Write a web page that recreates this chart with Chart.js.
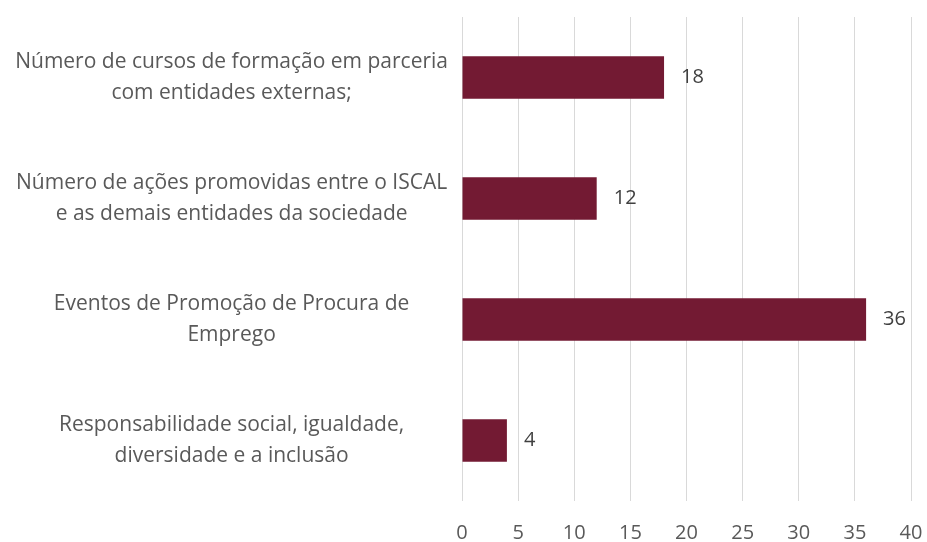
<!DOCTYPE html>
<html>
<head>
<meta charset="utf-8">
<script src="https://cdn.jsdelivr.net/npm/chart.js@4.4.0/dist/chart.umd.min.js"></script>
<style>
  html, body { margin: 0; padding: 0; background: #ffffff; }
  #wrap { width: 927px; height: 542px; }
</style>
</head>
<body>
<div id="wrap"><canvas id="chart" width="927" height="542"></canvas></div>
<script>
const categories = [
  ['Número de cursos de formação em parceria', 'com entidades externas;'],
  ['Número de ações promovidas entre o ISCAL', 'e as demais entidades da sociedade'],
  ['Eventos de Promoção de Procura de', 'Emprego'],
  ['Responsabilidade social, igualdade,', 'diversidade e a inclusão']
];
const values = [18, 12, 36, 4];
const xTicks = [0, 5, 10, 15, 20, 25, 30, 35, 40];

const barColor = '#731a33';
const textColor = '#595959';
const fontFamily = "'Open Sans', 'Noto Sans', sans-serif";

// draws the value to the right of each bar
const valueLabels = {
  id: 'valueLabels',
  afterDatasetsDraw(chart) {
    const ctx = chart.ctx;
    const meta = chart.getDatasetMeta(0);
    ctx.save();
    ctx.font = '20px ' + fontFamily;
    ctx.fillStyle = '#404040';
    ctx.textAlign = 'left';
    ctx.textBaseline = 'middle';
    meta.data.forEach((bar, i) => {
      ctx.fillText(String(values[i]), bar.x + 17, bar.y);
    });
    ctx.restore();
  }
};

new Chart(document.getElementById('chart'), {
  type: 'bar',
  data: {
    labels: categories,
    datasets: [{
      data: values,
      backgroundColor: barColor,
      borderWidth: 0,
      barPercentage: 0.7,
      categoryPercentage: 0.5
    }]
  },
  options: {
    indexAxis: 'y',
    responsive: false,
    animation: false,
    layout: { padding: { top: 17, right: 16, left: 0, bottom: 0 } },
    plugins: {
      legend: { display: false },
      tooltip: { enabled: false }
    },
    scales: {
      x: {
        min: 0,
        max: 40,
        afterBuildTicks: (axis) => { axis.ticks = xTicks.map(v => ({ value: v })); },
        afterFit: (axis) => {
          axis.height = 41;
          axis.paddingLeft = 0;
          axis.paddingRight = 0;
        },
        grid: { color: '#d9d9d9', lineWidth: 1, drawTicks: false },
        border: { display: false },
        ticks: {
          color: textColor,
          font: { family: fontFamily, size: 20 },
          padding: 20,
          maxRotation: 0
        }
      },
      y: {
        afterFit: (axis) => {
          axis.width = 462;
          axis.paddingTop = 0;
          axis.paddingBottom = 0;
        },
        grid: { display: false },
        border: { display: false },
        ticks: {
          color: textColor,
          crossAlign: 'center',
          padding: 6,
          font: { family: fontFamily, size: 21, lineHeight: 1.45 }
        }
      }
    }
  },
  plugins: [valueLabels]
});
</script>
</body>
</html>
